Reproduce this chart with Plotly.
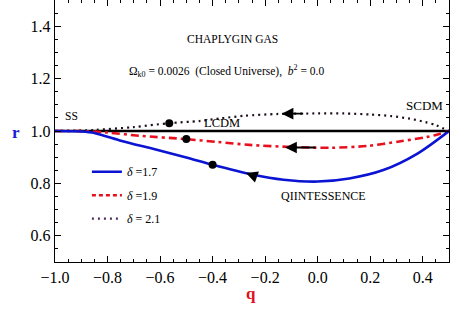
import plotly.graph_objects as go

# ---- data ----
q_17 = [-1.0, -0.92, -0.86, -0.81, -0.75, -0.62, -0.50, -0.40, -0.25, -0.13, 0.0, 0.12, 0.25, 0.38, 0.5]
r_17 = [1.0, 0.999, 0.994, 0.981, 0.963, 0.930, 0.899, 0.871, 0.834, 0.814, 0.807, 0.819, 0.851, 0.914, 1.0]

q_19 = [-1.0, -0.88, -0.80, -0.68, -0.50, -0.38, -0.26, -0.10, 0.05, 0.19, 0.31, 0.415, 0.46, 0.5]
r_19 = [1.0, 0.999, 0.994, 0.982, 0.969, 0.958, 0.947, 0.939, 0.936, 0.943, 0.960, 0.977, 0.988, 1.0]

q_21 = [-1.0, -0.85, -0.70, -0.565, -0.45, -0.37, -0.28, -0.15, 0.0, 0.10, 0.20, 0.28, 0.35, 0.41, 0.45, 0.5]
r_21 = [1.0, 1.004, 1.015, 1.030, 1.038, 1.048, 1.058, 1.065, 1.067, 1.067, 1.063, 1.057, 1.047, 1.034, 1.022, 1.0]

lcdm_q = [-1.0, 0.5]
lcdm_r = [1.0, 1.0]

dot_q = [-0.40, -0.50, -0.565]
dot_r = [0.871, 0.969, 1.030]

# arrow tips (q, r)
arrow_q = [-0.137, -0.124, -0.273]
arrow_r = [1.066, 0.937, 0.840]

legend_labels = ["<i>δ</i> =1.7", "<i>δ</i> =1.9", "<i>δ</i> = 2.1"]

x_ticks = [-1.0, -0.8, -0.6, -0.4, -0.2, 0.0, 0.2, 0.4]
y_ticks = [0.6, 0.8, 1.0, 1.2, 1.4]

SERIF = "Liberation Serif, serif"
BLUE = "#0a14d2"
RED = "#e8101e"
DOTC = "#1a0f1a"
PURPLE = "#4b2b5b"

fig = go.Figure()

fig.add_trace(go.Scatter(x=lcdm_q, y=lcdm_r, mode="lines",
                         line=dict(color="black", width=2.6), showlegend=False))
fig.add_trace(go.Scatter(x=q_21, y=r_21, mode="lines", line_shape="spline",
                         line=dict(color=DOTC, width=2.2, dash="2px,4px", smoothing=0.8),
                         showlegend=False))
fig.add_trace(go.Scatter(x=q_19, y=r_19, mode="lines", line_shape="spline",
                         line=dict(color=RED, width=2.6, dash="8px,4px,3px,4px", smoothing=0.8),
                         showlegend=False))
fig.add_trace(go.Scatter(x=q_17, y=r_17, mode="lines", line_shape="spline",
                         line=dict(color=BLUE, width=2.6, smoothing=0.8), showlegend=False))
fig.add_trace(go.Scatter(x=dot_q, y=dot_r, mode="markers",
                         marker=dict(color="black", size=8), showlegend=False))

# legend-only entries
leg_styles = [dict(color=BLUE, width=2.6),
              dict(color=RED, width=2.6, dash="4px,3px,4px,3px"),
              dict(color=PURPLE, width=2.2, dash="2px,4px")]
for i, (lab, st) in enumerate(zip(legend_labels, leg_styles)):
    fig.add_trace(go.Scatter(x=[None], y=[None], mode="lines", line=st, name=lab,
                             legendgroup=f"g{i}", showlegend=True))

# arrows
arrow_off = [(23, 0), (32, 0), (11, 4)]
for aq, ar, (ax, ay) in zip(arrow_q, arrow_r, arrow_off):
    fig.add_annotation(x=aq, y=ar, xref="x", yref="y", ax=ax, ay=ay, text="",
                       showarrow=True, arrowhead=2, arrowsize=1.3, arrowwidth=1.8,
                       arrowcolor="black")

def label(txt, x, y, size):
    fig.add_annotation(x=x, y=y, xref="x", yref="y", text=txt, showarrow=False,
                       font=dict(family=SERIF, size=size, color="black"))

label("CHAPLYGIN GAS", -0.326, 1.353, 11.5)
label("Ω<sub>k0</sub> = 0.0026 \u00a0(Closed Universe), \u00a0<i>b</i><sup>2</sup> = 0.0", -0.349, 1.230, 11.5)
label("SS", -0.939, 1.059, 11.5)
label("LCDM", -0.364, 1.031, 12.5)
label("SCDM", 0.405, 1.096, 13)
label("QIINTESSENCE", 0.024, 0.751, 12)

# axis titles
fig.add_annotation(x=-0.114, y=0.496, xref="paper", yref="paper", text="<b>r</b>",
                   showarrow=False, font=dict(family=SERIF, size=17, color="#1a1ad8"))
fig.add_annotation(x=0.497, y=-0.165, xref="paper", yref="paper", text="<b>q</b>",
                   showarrow=False, font=dict(family=SERIF, size=17, color="#e01020"))

axis_common = dict(showgrid=False, zeroline=False, showline=True, linecolor="black",
                   linewidth=1.3, mirror="allticks", ticks="inside", ticklen=6,
                   tickwidth=1, tickcolor="black",
                   tickfont=dict(family=SERIF, size=16, color="black"))

fig.update_xaxes(range=[-1.0, 0.5], tickvals=x_ticks, tickformat=".1f",
                 minor=dict(dtick=0.05, tick0=0, ticks="inside", ticklen=3, tickcolor="black"),
                 **axis_common)
fig.update_yaxes(range=[0.5, 1.5], tickvals=y_ticks, tickformat=".1f",
                 minor=dict(dtick=0.05, tick0=0, ticks="inside", ticklen=3, tickcolor="black"),
                 **axis_common)

fig.update_layout(
    width=450, height=317,
    margin=dict(l=55, r=1, t=0, b=55, pad=0),
    paper_bgcolor="white", plot_bgcolor="white",
    showlegend=True,
    hovermode=False,
    legend=dict(x=0.081, y=0.40, xanchor="left", yanchor="top",
                bgcolor="rgba(0,0,0,0)", tracegroupgap=4.5,
                font=dict(family=SERIF, size=12, color="black")),
)

fig.write_html("out.html", config={"displayModeBar": False, "staticPlot": True},
               post_script="document.body.style.margin='0px';document.body.style.padding='0px';")
